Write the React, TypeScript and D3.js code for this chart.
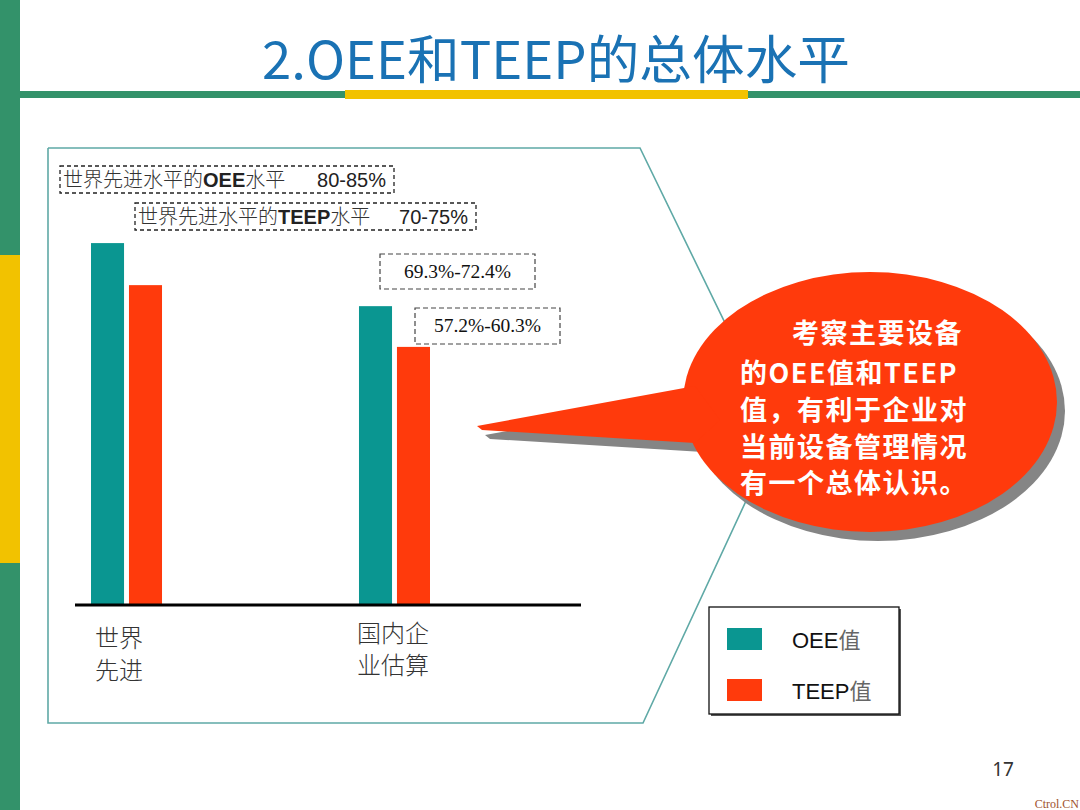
import React from "react";
import * as d3 from "d3";

const categories = ["世界先进", "国内企业估算"];
const categoryLines = [["世界", "先进"], ["国内企", "业估算"]];
const seriesNames = ["OEE", "TEEP"];
const oeeValues = [82.4, 68.0];
const teepValues = [72.8, 58.7];
const legendLabels = ["OEE", "TEEP"];
const domesticRanges = ["69.3%-72.4%", "57.2%-60.3%"];
const worldNotes = [
  { cn: "世界先进水平的", en: "OEE", tail: "水平", range: "80-85%" },
  { cn: "世界先进水平的", en: "TEEP", tail: "水平", range: "70-75%" },
];
const calloutLines = ["考察主要设备", "的OEE值和TEEP", "值，有利于企业对", "当前设备管理情况", "有一个总体认识。"];

const TEAL = "#0a9691";
const RED = "#ff3a0c";
const GREEN = "#33926a";
const YELLOW = "#f2c200";
const CJK = "'Noto Sans CJK SC', sans-serif";
const ARIAL = "'Liberation Sans', Arial, sans-serif";

export default function App() {
  const baseY = 604;
  const y = d3.scaleLinear().domain([0, 100]).range([baseY, baseY - 438]);
  const x0 = d3.scaleBand<string>().domain(categories).range([91, 430]).paddingInner(0.735).paddingOuter(0);
  const x1 = d3.scaleBand<string>().domain(seriesNames).range([0, x0.bandwidth()]).paddingInner(0.13);
  const colors = d3.scaleOrdinal<string, string>().domain(seriesNames).range([TEAL, RED]);
  const seriesValues = [oeeValues, teepValues];

  const framePts: [number, number][] = [[48, 148], [640, 148], [778, 432], [643, 723], [48, 723]];
  const frame = d3.line()(framePts.concat([framePts[0]])) || "";

  const tail: [number, number][] = [[477, 426], [695, 386], [720, 420], [695, 443], [482, 430]];
  const tailPath = d3.line()(tail.concat([tail[0]])) || "";

  return (
    <svg width={1080} height={810} style={{ position: "absolute", left: 0, top: 0, background: "#fff" }}>
      {/* left stripe */}
      <rect x={0} y={0} width={20} height={810} fill={GREEN} />
      <rect x={0} y={255} width={20} height={308} fill={YELLOW} />
      {/* header */}
      <text x={556} y={79} textAnchor="middle" fontFamily={CJK} fontSize={52} fill="#1a72b4" textLength={588} lengthAdjust="spacingAndGlyphs">
        2.OEE和TEEP的总体水平
      </text>
      <rect x={20} y={91} width={1060} height={7} fill={GREEN} />
      <rect x={345} y={90} width={403} height={9} fill={YELLOW} />

      {/* frame */}
      <path d={frame} fill="none" stroke="#5fa9a6" strokeWidth={1.6} />

      {/* bars */}
      {categories.map((c, i) => (
        <g key={c} transform={`translate(${x0(c)},0)`}>
          {seriesNames.map((s, j) => (
            <rect key={s} x={x1(s)} y={y(seriesValues[j][i])} width={x1.bandwidth()} height={baseY - y(seriesValues[j][i])} fill={colors(s)} />
          ))}
        </g>
      ))}
      <line x1={75} x2={581} y1={baseY + 1} y2={baseY + 1} stroke="#000" strokeWidth={3} />

      {/* category labels */}
      {categoryLines.map((lines, i) => (
        <g key={i}>
          {lines.map((t, k) => (
            <text key={k} x={(x0(categories[i]) || 0) + (i === 0 ? 4 : -2)} y={(i === 0 ? 647 : 642) + k * 32} fontFamily={CJK} fontSize={24} fill="#333" fontWeight={300}>
              {t}
            </text>
          ))}
        </g>
      ))}

      {/* world notes */}
      {worldNotes.map((n, i) => {
        const bx = i === 0 ? 60 : 135;
        const by = i === 0 ? 166 : 203;
        const bw = i === 0 ? 334 : 341;
        return (
          <g key={i}>
            <rect x={bx} y={by} width={bw} height={27} fill="#fff" stroke="#222" strokeWidth={1.3} strokeDasharray="4,3" />
            <text x={bx + 3} y={by + 21} fontSize={20} fill="#222">
              <tspan fontFamily={CJK} fontWeight={300} fill="#333">{n.cn}</tspan>
              <tspan fontFamily={ARIAL} fontWeight="bold">{n.en}</tspan>
              <tspan fontFamily={CJK} fontWeight={300} fill="#333">{n.tail}</tspan>
            </text>
            <text x={bx + bw - 8} y={by + 21} textAnchor="end" fontFamily={ARIAL} fontSize={20} fill="#222">
              {n.range}
            </text>
          </g>
        );
      })}

      {/* domestic range notes */}
      {domesticRanges.map((r, i) => {
        const bx = i === 0 ? 380 : 415;
        const by = i === 0 ? 254 : 308;
        const bw = i === 0 ? 155 : 145;
        const bh = i === 0 ? 35 : 36;
        return (
          <g key={r}>
            <rect x={bx} y={by} width={bw} height={bh} fill="#fff" stroke="#444" strokeWidth={1.2} strokeDasharray="5,3" />
            <text x={bx + bw / 2} y={by + bh / 2 + 6} textAnchor="middle" fontFamily="'Liberation Serif', serif" fontSize={19.5} fill="#111">
              {r}
            </text>
          </g>
        );
      })}

      {/* callout */}
      <g transform="translate(8,9)" fill="#858585">
        <ellipse cx={870} cy={402} rx={187} ry={130} />
        <path d={tailPath} />
      </g>
      <g fill={RED}>
        <ellipse cx={870} cy={402} rx={187} ry={130} />
        <path d={tailPath} />
      </g>
      {calloutLines.map((t, i) => (
        <text key={i} x={i === 0 ? 792 : 740} y={[343, 383, 420, 457, 493][i]} fontFamily={CJK} fontWeight="bold" fontSize={27} letterSpacing={1.5} fill="#fff">
          {t}
        </text>
      ))}

      {/* legend */}
      <rect x={711} y={609} width={190} height={107} fill="#555" />
      <rect x={709} y={607} width={190} height={107} fill="#fff" stroke="#111" strokeWidth={1.3} />
      {legendLabels.map((l, i) => (
        <g key={l}>
          <rect x={727} y={628 + i * 51} width={35} height={22} fill={colors(seriesNames[i])} />
          <text x={792} y={648 + i * 51} fontFamily={ARIAL} fontSize={22} fill="#111">
            {l}
            <tspan fontFamily={CJK} fill="#666">值</tspan>
          </text>
        </g>
      ))}

      {/* footer */}
      <text x={1003} y={776} textAnchor="middle" fontFamily="'Noto Sans', sans-serif" fontSize={19} fill="#333">17</text>
      <text x={1079} y={808} textAnchor="end" fontFamily="'Liberation Serif', serif" fontSize={12} fill="#a0522d">Ctrol.CN</text>
    </svg>
  );
}
